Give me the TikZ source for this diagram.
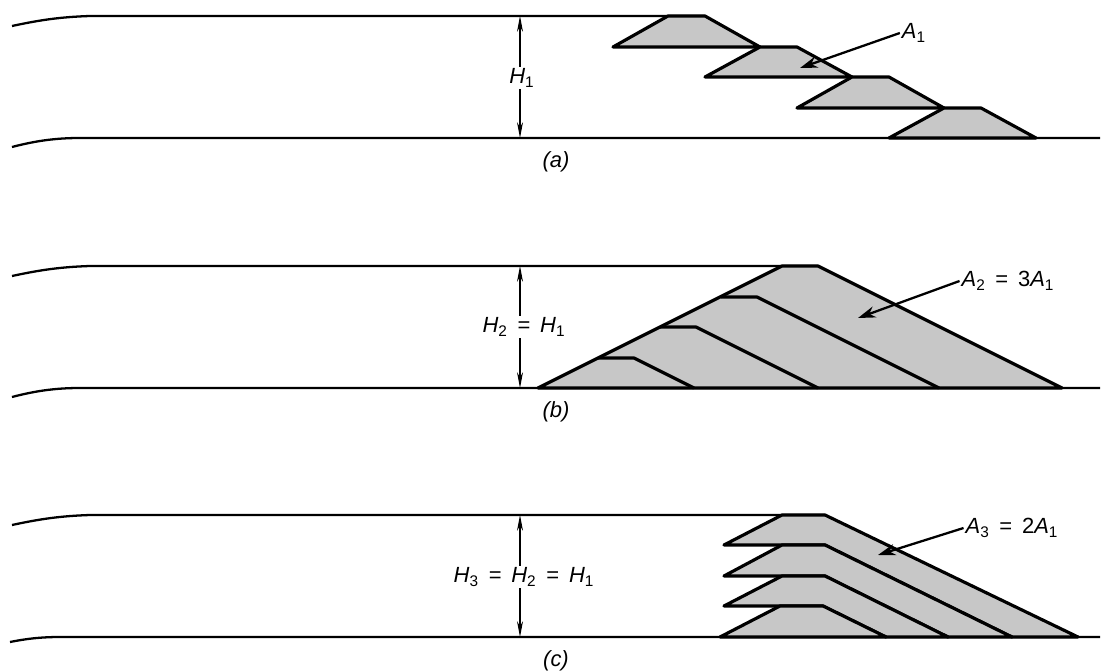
\documentclass[tikz,border=0pt]{standalone}
\usepackage{fontspec}
\setmainfont{Liberation Sans}
\usetikzlibrary{arrows.meta}
\newcommand{\vr}[2]{\textit{#1}\textsubscript{\upshape #2}}

\begin{document}
\begin{tikzpicture}[x=0.02cm, y=-0.02cm,
    wall/.style={line width=1.3pt},
    layer/.style={draw=black, fill=black!22, line width=1.8pt, line join=round},
    ridge/.style={line width=1.8pt, line join=round},
    dim/.style={line width=0.6pt, -{Stealth[length=9pt, width=3.4pt]}},
    lead/.style={line width=1.3pt, -{Stealth[length=10pt, width=6.5pt]}},
    lbl/.style={font=\fontsize{12.5}{14}\selectfont, inner sep=1pt}
]
\useasboundingbox (0,0) rectangle (1102,672);

\draw[wall] (12,26) .. controls (40,20) and (60,17) .. (90,16) -- (705,16);
\draw[wall] (12,147) .. controls (35,141) and (55,138) .. (80,138) -- (1100,138);
\draw[layer] (613,47) -- (668,16) -- (705,16) -- (760,47) -- cycle;
\draw[layer] (705,77) -- (760,47) -- (797,47) -- (852,77) -- cycle;
\draw[layer] (797,108) -- (852,77) -- (889,77) -- (944,108) -- cycle;
\draw[layer] (889,138) -- (944,108) -- (981,108) -- (1036,138) -- cycle;

\node[lbl] (h_one) at (522,78) {\vr{H}{1}};
\coordinate (h_one_top) at (520,16);
\coordinate (h_one_bot) at (520,138);
\draw[dim] (h_one_top |- h_one.north) -- (h_one_top);
\draw[dim] (h_one_bot |- h_one.south) -- (h_one_bot);
\node[lbl] (a_one) at (914,33) {\vr{A}{1}};
\coordinate (a_one_tip) at (800,68);
\draw[lead] (a_one.west) -- (a_one_tip);
\node[lbl] (tag_a) at (556,162) {\textit{(a)}};

\draw[wall] (12,276) .. controls (40,270) and (60,267) .. (90,266) -- (818,266);
\draw[wall] (12,397) .. controls (35,391) and (55,388) .. (80,388) -- (1100,388);
\draw[layer] (538,388) -- (782,266) -- (818,266) -- (1062,388) -- cycle;
\draw[ridge] (598,358) -- (634,358) -- (694,388);
\draw[ridge] (660,327) -- (696,327) -- (818,388);
\draw[ridge] (721,297) -- (757,297) -- (939,388);

\node[lbl] (h_two) at (524,327) {\vr{H}{2} \,=\, \vr{H}{1}};
\coordinate (h_two_top) at (520,266);
\coordinate (h_two_bot) at (520,388);
\draw[dim] (h_two_top |- h_two.north) -- (h_two_top);
\draw[dim] (h_two_bot |- h_two.south) -- (h_two_bot);
\node[lbl] (a_two) at (1008,281) {\vr{A}{2} \,=\, 3\vr{A}{1}};
\coordinate (a_two_tip) at (858,318);
\draw[lead] (a_two.west) -- (a_two_tip);
\node[lbl] (tag_b) at (556,412) {\textit{(b)}};

\draw[wall] (12,525) .. controls (40,519) and (60,516) .. (90,515) -- (825,515);
\draw[wall] (10,642) .. controls (25,639) and (40,637) .. (60,637) -- (1100,637);
\draw[layer] (724,545) -- (782,515) -- (825,515) -- (1078,637) -- (1012,637) -- (825,545) -- cycle;
\draw[layer] (724,576) -- (782,545) -- (825,545) -- (1012,637) -- (948,637) -- (825,576) -- cycle;
\draw[layer] (724,606) -- (782,576) -- (825,576) -- (948,637) -- (886,637) -- (823,606) -- cycle;
\draw[layer] (720,637) -- (780,606) -- (823,606) -- (886,637) -- cycle;

\node[lbl] (h_three) at (524,577) {\vr{H}{3} \,=\, \vr{H}{2} \,=\, \vr{H}{1}};
\coordinate (h_three_top) at (520,515);
\coordinate (h_three_bot) at (520,637);
\draw[dim] (h_three_top |- h_three.north) -- (h_three_top);
\draw[dim] (h_three_bot |- h_three.south) -- (h_three_bot);
\node[lbl] (a_three) at (1012,528) {\vr{A}{3} \,=\, 2\vr{A}{1}};
\coordinate (a_three_tip) at (878,555);
\draw[lead] (a_three.west) -- (a_three_tip);
\node[lbl] (tag_c) at (556,661) {\textit{(c)}};

\end{tikzpicture}
\end{document}
